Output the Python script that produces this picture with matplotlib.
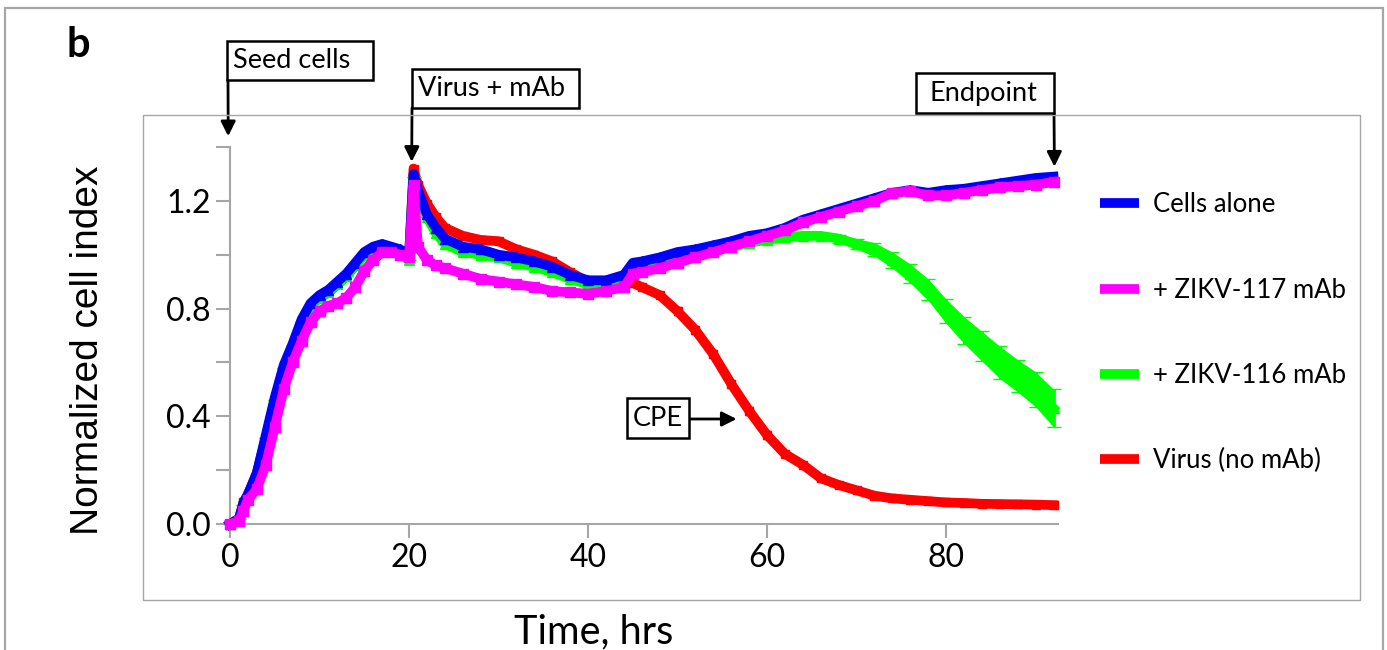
import numpy as np
import matplotlib.pyplot as plt
from matplotlib.patches import Rectangle
from matplotlib.lines import Line2D

plt.rcParams['font.family'] = ['Lato', 'DejaVu Sans']

# time points (hrs)
hours = [0, 1, 1.5, 2, 3, 4, 5, 6, 7, 8, 9, 10, 11, 12, 13, 14, 15, 16, 17, 18, 19, 20,
         20.5, 21, 22, 23, 24, 26, 28, 30, 32, 34, 36, 38, 40, 42, 44, 45,
         46, 48, 50, 52, 54, 56, 58, 60, 62, 64, 66, 68, 70, 72, 74, 76, 78, 80, 82, 84, 86, 88, 90, 92]

cells_alone = [0.0, 0.02, 0.08, 0.11, 0.19, 0.33, 0.47, 0.59, 0.67, 0.76, 0.82, 0.85, 0.87, 0.90, 0.93, 0.97, 1.01, 1.03, 1.04, 1.03, 1.02, 1.00,
               1.30, 1.24, 1.15, 1.10, 1.06, 1.03, 1.02, 1.00, 0.99, 0.975, 0.955, 0.925, 0.905, 0.905, 0.925, 0.97,
               0.975, 0.99, 1.01, 1.02, 1.035, 1.05, 1.07, 1.08, 1.10, 1.13, 1.15, 1.17, 1.19, 1.21, 1.23, 1.24, 1.23, 1.24, 1.245, 1.255, 1.265, 1.275, 1.285, 1.29]

zikv117 = [0.0, 0.01, 0.05, 0.09, 0.13, 0.22, 0.36, 0.50, 0.60, 0.68, 0.75, 0.79, 0.81, 0.82, 0.84, 0.88, 0.94, 0.98, 1.01, 1.01, 1.00, 0.99,
           1.26, 1.03, 0.98, 0.96, 0.95, 0.93, 0.91, 0.90, 0.89, 0.88, 0.865, 0.86, 0.855, 0.865, 0.88, 0.93,
           0.935, 0.95, 0.97, 0.99, 1.01, 1.03, 1.05, 1.07, 1.09, 1.12, 1.14, 1.16, 1.18, 1.20, 1.23, 1.235, 1.22, 1.22, 1.23, 1.24, 1.25, 1.255, 1.26, 1.27]

zikv116 = [0.0, 0.02, 0.07, 0.10, 0.18, 0.32, 0.46, 0.58, 0.66, 0.75, 0.81, 0.84, 0.86, 0.89, 0.92, 0.96, 1.00, 1.02, 1.03, 1.02, 1.00, 0.98,
           1.29, 1.21, 1.14, 1.08, 1.04, 1.01, 1.00, 0.99, 0.97, 0.955, 0.935, 0.91, 0.89, 0.89, 0.905, 0.95,
           0.96, 0.975, 0.99, 1.00, 1.015, 1.03, 1.045, 1.055, 1.065, 1.07, 1.07, 1.06, 1.04, 1.02, 0.98, 0.93, 0.87, 0.79, 0.72, 0.66, 0.60, 0.55, 0.50, 0.43]

zikv116_err = [0.0] * 48 + [0.01, 0.015, 0.02, 0.025, 0.03, 0.035, 0.04, 0.045, 0.05, 0.055, 0.06, 0.06, 0.065, 0.07]

virus = [0.0, 0.02, 0.08, 0.11, 0.19, 0.32, 0.46, 0.58, 0.66, 0.75, 0.81, 0.84, 0.86, 0.89, 0.92, 0.96, 1.00, 1.02, 1.03, 1.02, 1.00, 0.99,
         1.32, 1.26, 1.19, 1.14, 1.10, 1.07, 1.055, 1.05, 1.02, 1.00, 0.975, 0.935, 0.90, 0.895, 0.89, 0.895,
         0.88, 0.85, 0.79, 0.72, 0.63, 0.52, 0.42, 0.33, 0.26, 0.22, 0.17, 0.145, 0.125, 0.105, 0.095, 0.09, 0.085, 0.08, 0.078, 0.075, 0.074, 0.073, 0.072, 0.07]

virus_err = [0.0] * 38 + [0.01, 0.012, 0.015, 0.015, 0.015, 0.015, 0.015, 0.015, 0.012, 0.01, 0.01, 0.008] + [0.005] * 12

labels = ['Cells alone', '+ ZIKV-117 mAb', '+ ZIKV-116 mAb', 'Virus (no mAb)']
colors = ['#0000ff', '#ff00ff', '#00ff00', '#ff0000']

W, H = 1387, 650
fig = plt.figure(figsize=(W / 100, H / 100), dpi=100)

def fx(x):
    return x / W

def fy(y):
    return 1 - y / H

# outer frame and plot area box
fig.patches.append(Rectangle((fx(5), fy(700)), fx(1383) - fx(5), fy(8) - fy(700),
                             transform=fig.transFigure, fill=False, ec='#a6a6a6', lw=1.6))
fig.patches.append(Rectangle((fx(143), fy(600)), fx(1360) - fx(143), fy(115) - fy(600),
                             transform=fig.transFigure, fill=False, ec='#a6a6a6', lw=1))

ax = fig.add_axes([fx(230), fy(524), fx(1058) - fx(230), fy(147) - fy(524)])

t = np.array(hours)
g = np.array(zikv116)
ge = np.array(zikv116_err)
ax.errorbar(t, virus, yerr=virus_err, color=colors[3], lw=7, marker='s', ms=6,
            elinewidth=2, capsize=3, clip_on=False, zorder=2)
ax.fill_between(t, g - ge, g + ge, color=colors[2], lw=0, zorder=3)
ax.errorbar(t, zikv116, yerr=zikv116_err, color=colors[2], lw=7, marker='^', ms=7,
            elinewidth=2, capsize=5, clip_on=False, zorder=3)
ax.plot(t, cells_alone, color=colors[0], lw=7, marker='^', ms=7, clip_on=False, zorder=4)
ax.plot(t, zikv117, color=colors[1], lw=7, marker='s', ms=7, clip_on=False, zorder=5)

ax.set_xlim(0, 92.5)
ax.set_ylim(0, 1.4)
ax.set_xticks([0, 20, 40, 60, 80])
yticks = [0.0, 0.2, 0.4, 0.6, 0.8, 1.0, 1.2, 1.4]
ytick_labels = ['0.0', '', '0.4', '', '0.8', '', '1.2', '']
ax.set_yticks(yticks)
ax.set_yticklabels(ytick_labels)
for s in ['top', 'right']:
    ax.spines[s].set_visible(False)
for s in ['left', 'bottom']:
    ax.spines[s].set_color('#a6a6a6')
    ax.spines[s].set_linewidth(1.5)
ax.tick_params(axis='both', length=10, width=1.5, color='#a6a6a6', labelsize=23, pad=4)

fig.text(fx(88), fy(350), 'Normalized cell index', rotation=90, ha='center', va='center',
         fontsize=28, family=['Liberation Sans', 'DejaVu Sans'])
fig.text(fx(594), fy(632), 'Time, hrs', ha='center', va='center', fontsize=28.5)
fig.text(fx(78), fy(45), 'b', ha='center', va='center', fontsize=30, fontweight='bold')

# legend
handles = [Line2D([], [], color=c, lw=7, solid_capstyle='butt') for c in colors]
ax.legend(handles, labels, loc='upper left', bbox_to_anchor=(fx(1077), fy(169)),
          bbox_transform=fig.transFigure, frameon=False, fontsize=18.5,
          handlelength=1.5, handletextpad=0.55, labelspacing=2.35)

# annotation boxes with arrows
boxes = [('Seed cells', 227, 41, 373, 80), ('Virus + mAb', 412, 69, 579, 108),
         ('Endpoint', 916, 73, 1054, 113), ('CPE', 627, 398, 689, 438)]
for txt, x0, y0, x1, y1 in boxes:
    fig.patches.append(Rectangle((fx(x0), fy(y1)), fx(x1) - fx(x0), fy(y0) - fy(y1),
                                 transform=fig.transFigure, fc='white', ec='black', lw=1.8, zorder=5))
    tx = x0 + 6 if txt != 'Endpoint' else x0 + 14
    fig.text(fx(tx), fy((y0 + y1) / 2), txt, ha='left', va='center', fontsize=19.5, zorder=6)

arrows = [((-0.2, 1.44), (228, 80)), ((20.3, 1.345), (412, 108)),
          ((92.1, 1.327), (1054, 113)), ((56.6, 0.39), (689, 419))]
for tip, start in arrows:
    ax.annotate('', xy=tip, xycoords='data', xytext=(fx(start[0]), fy(start[1])),
                textcoords='figure fraction', annotation_clip=False,
                arrowprops=dict(arrowstyle='-|>', color='black', lw=2, mutation_scale=22,
                                shrinkA=0, shrinkB=0))

fig.savefig('out.png', dpi=100)
